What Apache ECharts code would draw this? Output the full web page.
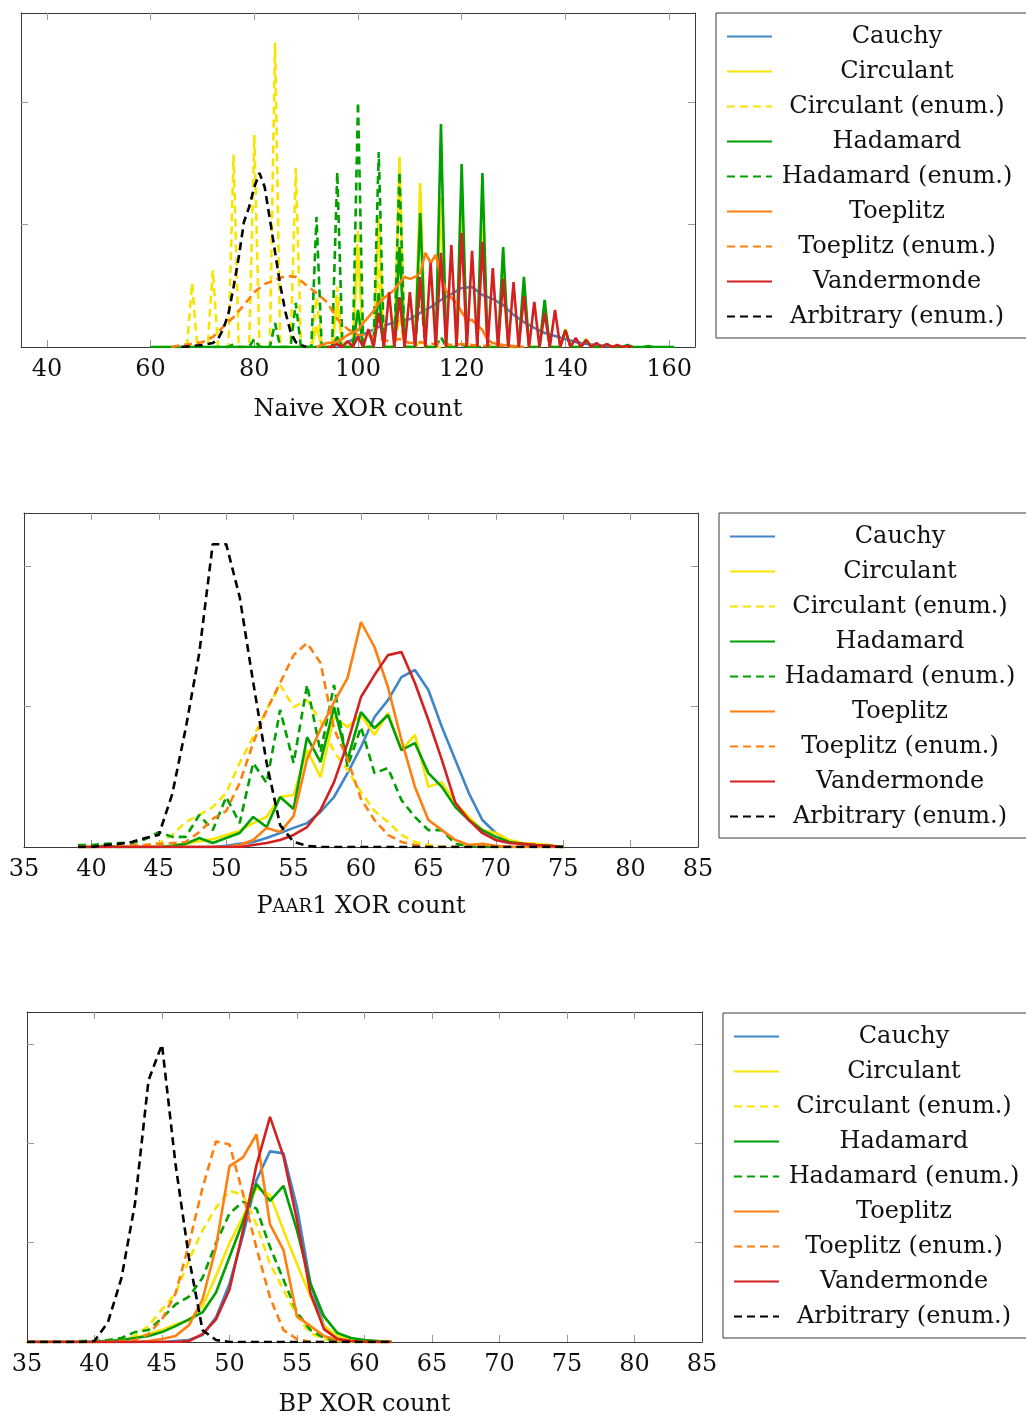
<!DOCTYPE html>
<html>
<head>
<meta charset="utf-8">
<script src="https://cdn.jsdelivr.net/npm/echarts@6/dist/echarts.min.js"></script>
<style>
  html, body { margin: 0; padding: 0; background: #fff; }
  #chart { width: 1026px; height: 1418px; }
</style>
</head>
<body>
<div id="chart"></div>
<script>
// legend order = drawing order
const seriesNames = ['Cauchy', 'Circulant', 'Circulant (enum.)', 'Hadamard', 'Hadamard (enum.)',
  'Toeplitz', 'Toeplitz (enum.)', 'Vandermonde', 'Arbitrary (enum.)'];
const seriesColors = ['#3f86c8', '#f7e400', '#f7e400', '#00a000', '#00a000',
  '#ff7f0e', '#ff7f0e', '#d42020', '#000000'];
const seriesDashed = [false, false, true, false, true, false, true, false, true];

// ---- Naive XOR count (share in %), [x, y] pairs ----
const naiveTicks = [40, 60, 80, 100, 120, 140, 160];
const naiveCauchy = [[96,0],[98,0.2],[100,0.41],[102,0.61],[104,0.82],[106,0.94],[108,1.06],[110,1.14],[112,1.39],[114,1.63],[116,1.92],[118,2.16],[120,2.41],[122,2.45],[124,2.12],[126,1.96],[128,1.71],[130,1.31],[132,1.02],[134,0.78],[136,0.57],[138,0.45],[140,0.33],[142,0.2],[144,0.12],[146,0.08],[148,0.04],[150,0]];
const naiveCirculant = [[88,0],[91,0],[92,0.82],[93,0],[95,0],[96,1.84],[97,0],[99,0],[100,4.08],[101,0],[103,0],[104,5.31],[105,0],[107,0],[108,7.76],[109,0],[111,0],[112,6.69],[113,0],[115,0],[116,6.12],[117,0],[119,0],[120,5.71],[121,0],[123,0],[124,4.9],[125,0],[127,0],[128,3.47],[129,0],[131,0],[132,2.45],[133,0],[135,0],[136,1.63],[137,0],[139,0],[140,0.73],[141,0],[143,0],[144,0.33],[145,0],[147,0],[148,0.12],[149,0],[152,0]];
const naiveCirculantEnum = [[62,0],[67,0],[68,2.61],[69,0],[71,0],[72,3.14],[73,0],[75,0],[76,7.84],[77,0],[79,0],[80,8.65],[81,0],[83,0],[84,12.41],[85,0],[87,0],[88,7.31],[89,0],[91,0],[92,2.04],[93,0],[95,0],[96,2.45],[97,0],[99,0],[100,4.78],[101,0],[103,0],[104,3.27],[105,0],[107,0],[108,1.22],[109,0],[111,0],[112,0.2],[113,0],[116,0]];
const naiveHadamard = [[60,0],[95,0],[96,0.41],[97,0],[99,0],[100,1.51],[101,0],[103,0],[104,2.2],[105,0],[107,0],[108,4.08],[109,0],[111,0],[112,5.47],[113,0],[115,0],[116,9.1],[117,0],[119,0],[120,7.47],[121,0],[123,0],[124,7.1],[125,0],[127,0],[128,4.08],[129,0],[131,0],[132,2.86],[133,0],[135,0],[136,1.92],[137,0],[139,0],[140,0.69],[141,0],[143,0],[144,0.29],[145,0],[147,0],[148,0.12],[149,0],[151,0],[152,0.08],[153,0],[155,0],[156,0.04],[157,0],[161,0]];
const naiveHadamardEnum = [[72,0],[75,0],[76,0.12],[77,0],[79,0],[80,0.33],[81,0],[83,0],[84,0.98],[85,0],[87,0],[88,1.8],[89,0],[91,0],[92,5.31],[93,0],[95,0],[96,7.14],[97,0],[99,0],[100,10.0],[101,0],[103,0],[104,7.96],[105,0],[107,0],[108,7.14],[109,0],[111,0],[112,2.45],[113,0],[115,0],[116,0.41],[117,0],[119,0],[120,0.12],[121,0],[124,0]];
const naiveToeplitz = [[92,0],[94,0.16],[96,0.2],[98,0.49],[100,0.69],[101,0.98],[102,1.22],[103,1.47],[104,1.8],[105,2.0],[106,2.16],[107,2.33],[108,2.61],[109,2.86],[110,2.78],[111,2.86],[112,3.02],[113,3.84],[114,3.43],[115,3.76],[116,2.86],[117,2.29],[118,2.0],[119,1.8],[120,1.43],[121,1.1],[122,1.1],[123,0.9],[124,0.69],[125,0.29],[126,0.16],[127,0.12],[128,0.08],[130,0.04],[132,0]];
const naiveToeplitzEnum = [[64,0],[66,0.08],[68,0.12],[70,0.2],[72,0.41],[74,0.82],[76,1.22],[78,1.71],[80,2.24],[82,2.57],[84,2.73],[86,2.9],[88,2.86],[90,2.53],[92,2.2],[94,1.84],[96,1.14],[98,0.73],[100,0.49],[102,0.49],[104,0.33],[106,0.24],[108,0.33],[110,0.16],[112,0.2],[114,0.12],[116,0.16],[118,0.08],[120,0.12],[122,0.08],[124,0.04],[126,0.08],[128,0.04],[130,0]];
const naiveVandermonde = [[94,0],[95,0],[96,0.12],[97,0],[98,0.24],[99,0],[100,0.41],[101,0],[102,0.73],[103,0],[104,1.39],[105,0],[106,2.24],[107,0],[108,2.04],[109,0],[110,2.24],[111,0],[112,2.86],[113,0],[114,3.43],[115,0],[116,3.84],[117,0],[118,4.16],[119,0],[120,4.65],[121,0],[122,3.92],[123,0],[124,4.29],[125,0],[126,3.22],[127,0],[128,2.78],[129,0],[130,2.65],[131,0],[132,2.08],[133,0],[134,1.84],[135,0],[136,1.39],[137,0],[138,1.51],[139,0],[140,0.69],[141,0],[142,0.37],[143,0],[144,0.29],[145,0],[146,0.16],[147,0],[148,0.12],[149,0],[150,0.08],[151,0],[152,0.04],[153,0]];
const naiveArbitrary = [[66,0],[68,0.04],[70,0.08],[71,0.12],[72,0.16],[73,0.33],[74,0.73],[75,1.35],[76,2.45],[77,3.67],[78,5.1],[79,5.71],[80,6.53],[81,7.1],[82,6.53],[83,5.22],[84,3.88],[85,2.53],[86,1.43],[87,0.61],[88,0.2],[89,0.08],[90,0]];

// ---- Paar1 XOR count (share in %), one value per x in paarX ----
const paarLabels = [35, 40, 45, 50, 55, 60, 65, 70, 75, 80, 85];
const paarX = [39,40,41,42,43,44,45,46,47,48,49,50,51,52,53,54,55,56,57,58,59,60,61,62,63,64,65,66,67,68,69,70,71,72,73,74,75];
const paarCauchy = [0,0,0,0,0,0,0,0,0,0,0,0.04,0.11,0.18,0.32,0.5,0.68,0.85,1.25,1.78,2.63,3.56,4.63,5.23,6.05,6.3,5.59,4.27,3.1,1.92,0.96,0.5,0.21,0.11,0.07,0.04,0];
const paarCirculant = [0,0,0,0,0,0,0,0.04,0.11,0.21,0.28,0.43,0.57,0.85,1.07,1.78,1.85,3.45,2.49,4.63,4.27,4.7,3.99,4.77,3.45,3.99,2.14,2.31,1.57,1.07,0.6,0.5,0.25,0.14,0.11,0.07,0];
const paarCirculantEnum = [0,0,0,0,0.04,0.07,0.14,0.43,0.89,1.14,1.42,1.92,2.99,3.91,4.88,5.77,4.98,5.23,4.48,3.38,2.74,1.96,1.28,0.89,0.43,0.18,0.07,0,0,0,0,0,0,0,0,0,0];
const paarHadamard = [0,0,0.04,0,0,0,0,0.04,0.11,0.32,0.14,0.32,0.5,1.07,0.71,1.78,1.35,3.91,3.02,4.98,3.1,4.8,4.23,4.7,3.45,3.7,2.63,2.14,1.42,0.96,0.6,0.36,0.18,0.11,0.07,0.04,0];
const paarHadamardEnum = [0.07,0.07,0.11,0.14,0.14,0.28,0.53,0.36,0.36,1.14,0.6,1.78,0.85,2.99,2.28,4.88,2.99,5.77,3.38,5.77,2.85,4.27,2.63,2.81,1.67,1.07,0.6,0.6,0.11,0.04,0,0,0,0,0,0,0];
const paarToeplitz = [0,0,0,0,0,0,0,0,0,0,0,0,0.07,0.25,0.68,0.53,1.1,3.13,4.2,5.16,6.01,8.01,7.12,5.69,3.81,2.14,0.96,0.6,0.25,0.07,0.11,0.04,0,0,0,0,0];
const paarToeplitzEnum = [0,0,0,0,0.07,0.07,0.11,0.14,0.18,0.53,1.0,1.28,2.28,3.7,4.88,5.84,6.83,7.26,6.55,4.2,3.13,1.71,0.96,0.43,0.18,0.07,0,0,0,0,0,0,0,0,0,0,0];
const paarVandermonde = [0,0,0,0,0,0,0,0,0,0,0,0,0,0.07,0.14,0.25,0.43,0.71,1.32,2.31,3.7,5.34,6.12,6.83,6.94,5.84,4.52,3.1,1.57,0.96,0.5,0.25,0.14,0.11,0.07,0.04,0];
const paarArbitrary = [0,0,0.07,0.11,0.18,0.32,0.43,1.89,4.23,6.9,10.78,10.78,8.9,5.87,2.99,0.78,0.18,0.04,0,0,0,0,0,0,0,0,0,0,0,0,0,0,0,0,0,0,0];

// ---- BP XOR count (share in %), one value per x in bpX ----
const bpLabels = [35, 40, 45, 50, 55, 60, 65, 70, 75, 80, 85];
const bpX = [35,36,37,38,39,40,41,42,43,44,45,46,47,48,49,50,51,52,53,54,55,56,57,58,59,60,61,62];
const bpCauchy = [0,0,0,0,0,0,0,0,0,0,0,0.05,0.1,0.35,1.24,2.94,5.37,8.16,9.6,9.5,6.77,2.94,0.8,0.25,0.1,0.05,0,0];
const bpCirculant = [0,0,0,0,0,0,0,0.1,0.2,0.4,0.6,0.9,1.09,1.79,3.33,4.98,6.32,7.76,7.41,5.62,3.93,2.29,0.8,0.3,0.1,0.05,0,0];
const bpCirculantEnum = [0,0,0,0,0,0,0,0.1,0.3,0.8,1.64,2.44,4.13,5.62,6.77,7.61,7.41,5.92,3.93,2.64,1.29,0.45,0.15,0.05,0,0,0,0];
const bpHadamard = [0,0,0,0,0,0,0.05,0.1,0.2,0.3,0.5,0.8,1.14,1.49,2.49,4.28,6.07,7.96,7.11,7.86,5.62,2.94,1.29,0.45,0.2,0.1,0.05,0];
const bpHadamardEnum = [0,0,0,0,0.05,0.05,0.1,0.2,0.5,0.6,1.2,1.89,2.29,3.23,4.98,6.47,7.06,6.72,4.78,3.13,1.49,0.6,0.2,0.05,0,0,0,0];
const bpToeplitz = [0,0,0,0,0,0,0,0,0,0.05,0.15,0.3,0.85,2.14,4.78,8.86,9.3,10.45,5.92,4.63,1.29,0.8,0.3,0.1,0.05,0,0,0];
const bpToeplitzEnum = [0,0,0,0,0,0,0,0.05,0.1,0.4,1.14,2.44,4.93,7.76,10.1,9.95,7.46,4.73,2.24,0.6,0.15,0,0,0,0,0,0,0];
const bpVandermonde = [0,0,0,0,0,0,0,0,0,0,0,0,0.05,0.4,1.14,2.64,5.62,8.91,11.34,9.35,6.12,2.44,0.65,0.15,0.05,0,0,0];
const bpArbitrary = [0,0,0,0,0,0.05,1.0,3.23,6.97,13.18,14.98,8.96,4.23,0.6,0.1,0,0,0,0,0,0,0,0,0,0,0,0,0];

const FONT = '"DejaVu Serif", "Liberation Serif", serif';
const FS = 24;

const zip = (xs, ys) => xs.map((x, k) => [x, ys[k]]);

const panels = [
  {
    grid: { left: 21, top: 13, width: 674, height: 334 },
    xMin: 35, xMax: 165, xLabels: naiveTicks, xTicks: naiveTicks,
    yMax: 13.63, yTicks: [5, 10],
    name: 'Naive XOR count', rich: null, nameGap: 51,
    legend: { left: 716, top: 13 },
    data: [naiveCauchy, naiveCirculant, naiveCirculantEnum, naiveHadamard, naiveHadamardEnum,
      naiveToeplitz, naiveToeplitzEnum, naiveVandermonde, naiveArbitrary]
  },
  {
    grid: { left: 24, top: 513, width: 674, height: 334 },
    xMin: 35, xMax: 85, xLabels: paarLabels, xTicks: paarLabels.slice(1, -1),
    yMax: 11.89, yTicks: [5, 10],
    name: '{a|P}{b|AAR}{a|1 XOR count}', rich: true, nameGap: 46,
    legend: { left: 719, top: 513 },
    data: [paarCauchy, paarCirculant, paarCirculantEnum, paarHadamard, paarHadamardEnum,
      paarToeplitz, paarToeplitzEnum, paarVandermonde, paarArbitrary].map(ys => zip(paarX, ys))
  },
  {
    grid: { left: 27, top: 1012, width: 675, height: 334 },
    xMin: 35, xMax: 85, xLabels: bpLabels, xTicks: bpLabels.slice(1, -1),
    yMax: 16.62, yTicks: [5, 10, 15],
    name: 'BP XOR count', rich: null, nameGap: 51,
    legend: { left: 723, top: 1013 },
    data: [bpCauchy, bpCirculant, bpCirculantEnum, bpHadamard, bpHadamardEnum,
      bpToeplitz, bpToeplitzEnum, bpVandermonde, bpArbitrary].map(ys => zip(bpX, ys))
  }
];

const frameLine = { show: true, onZero: false, lineStyle: { color: '#3a3a3a', width: 1 } };
const tickStyle = { color: '#9a9a9a', width: 1 };

const grids = [], xAxes = [], yAxes = [], legends = [], series = [];

panels.forEach((p, i) => {
  grids.push(Object.assign({ containLabel: false }, p.grid));

  const nameStyle = { fontFamily: FONT, fontSize: FS, color: '#111' };
  if (p.rich) {
    // small caps for "Paar": same line box for both sizes
    nameStyle.rich = {
      a: { fontFamily: FONT, fontSize: FS, color: '#111', lineHeight: 28 },
      b: { fontFamily: FONT, fontSize: 18, color: '#111', lineHeight: 28 }
    };
  }

  xAxes.push({
    type: 'value', gridIndex: i, min: p.xMin, max: p.xMax, position: 'bottom',
    axisLine: frameLine,
    axisTick: { show: true, inside: true, length: 7, lineStyle: tickStyle, customValues: p.xTicks },
    axisLabel: { show: true, customValues: p.xLabels, margin: 11, fontFamily: FONT, fontSize: FS, color: '#111' },
    splitLine: { show: false },
    name: p.name, nameLocation: 'middle', nameGap: p.nameGap, nameTextStyle: nameStyle
  });
  xAxes.push({
    type: 'value', gridIndex: i, min: p.xMin, max: p.xMax, position: 'top',
    axisLine: frameLine,
    axisTick: { show: true, inside: true, length: 7, lineStyle: tickStyle, customValues: p.xTicks },
    axisLabel: { show: false },
    splitLine: { show: false }
  });

  ['left', 'right'].forEach(pos => {
    yAxes.push({
      type: 'value', gridIndex: i, min: 0, max: p.yMax, position: pos,
      axisLine: frameLine,
      axisTick: { show: true, inside: true, length: 7, lineStyle: tickStyle, customValues: p.yTicks },
      axisLabel: { show: false },
      splitLine: { show: false }
    });
  });

  legends.push({
    orient: 'vertical', left: p.legend.left, top: p.legend.top,
    data: seriesNames, selectedMode: false,
    itemWidth: 45, itemHeight: 14, itemGap: 0,
    padding: [6, 30, 4, 10],
    backgroundColor: '#fff', borderColor: '#3a3a3a', borderWidth: 1, borderRadius: 0,
    itemStyle: { opacity: 0, borderWidth: 0 },
    formatter: '{t|{name}}',
    textStyle: {
      fontFamily: FONT, fontSize: FS, color: '#111', lineHeight: 35,
      rich: { t: { width: 240, height: 35, align: 'center', fontFamily: FONT, fontSize: FS, lineHeight: 35, color: '#111' } }
    }
  });

  p.data.forEach((d, k) => {
    series.push({
      name: seriesNames[k], type: 'line',
      xAxisIndex: 2 * i, yAxisIndex: 2 * i,
      data: d, symbol: 'none', showSymbol: false, smooth: false,
      lineStyle: { color: seriesColors[k], width: 2.6, type: seriesDashed[k] ? [8, 5] : 'solid' },
      itemStyle: { color: seriesColors[k] },
      emphasis: { disabled: true },
      silent: true
    });
  });
});

const chart = echarts.init(document.getElementById('chart'), null, { renderer: 'canvas' });
chart.setOption({
  animation: false,
  backgroundColor: '#fff',
  grid: grids,
  xAxis: xAxes,
  yAxis: yAxes,
  legend: legends,
  series: series
});
</script>
</body>
</html>
